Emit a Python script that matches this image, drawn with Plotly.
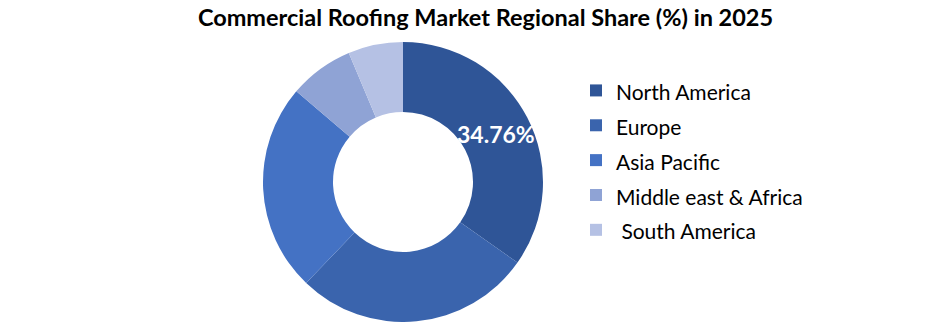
import math
import plotly.graph_objects as go

regions = ["North America", "Europe", "Asia Pacific", "Middle east & Africa", " South America"]
shares = [34.76, 27.4, 24.05, 7.46, 6.33]
colors = ["#2F5597", "#3A64AD", "#4472C4", "#8FA3D5", "#B5C1E4"]
label_text = "34.76%"

W, H = 940, 322
cx, cy, R = 403, 182, 140  # pie geometry in pixels

fig = go.Figure()
fig.add_trace(go.Pie(
    labels=[f'<span style="font-size:21px">{r}</span>' for r in regions],
    values=shares,
    textinfo="none",
    hole=0.5,
    sort=False,
    direction="clockwise",
    rotation=0,
    marker=dict(colors=colors, line=dict(width=0)),
    domain=dict(x=[(cx - R) / W, (cx + R) / W], y=[(H - cy - R) / H, (H - cy + R) / H]),
))

# label at the mid-angle of the first slice, halfway through the ring
mid = shares[0] / 2 / sum(shares) * 2 * math.pi
r_lab = 0.75 * R
fig.add_annotation(
    text=f"<b>{label_text}</b>",
    x=(cx + r_lab * math.sin(mid)) / W, y=(H - cy + r_lab * math.cos(mid)) / H,
    xref="paper", yref="paper", showarrow=False,
    font=dict(family="Lato", size=23, color="white"),
)

fig.update_layout(
    width=W, height=H,
    margin=dict(l=0, r=0, t=0, b=0),
    paper_bgcolor="white",
    plot_bgcolor="white",
    title=dict(
        text="<b>Commercial Roofing Market Regional Share (%) in 2025</b>",
        x=485.5 / W, xanchor="center",
        y=1 - 18 / H, yanchor="middle",
        font=dict(family="Lato", size=23.5, color="black"),
    ),
    showlegend=True,
    legend=dict(
        x=576 / W, xanchor="left",
        y=1 - 68 / H, yanchor="top",
        font=dict(family="Lato", size=24.5, color="black"),
        traceorder="normal",
        bgcolor="rgba(0,0,0,0)",
    ),
)

fig.write_html("out.html")
